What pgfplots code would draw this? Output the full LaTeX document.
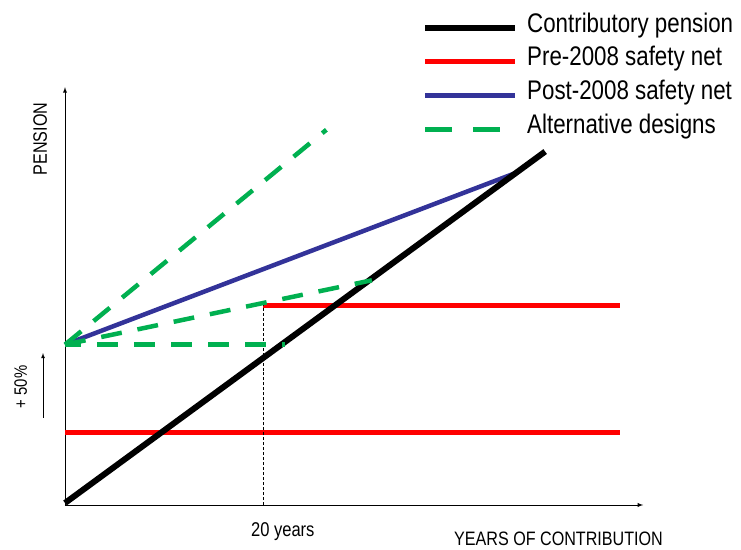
\documentclass[border=0pt]{standalone}
\usepackage{pgfplots}
\pgfplotsset{compat=1.18}
\usepackage{fontspec}
\setmainfont{Liberation Sans}
\newfontfamily\cf[FakeStretch=0.83]{Liberation Sans}
\definecolor{netred}{RGB}{255,0,0}
\definecolor{netblue}{RGB}{51,51,153}
\definecolor{altgreen}{RGB}{0,176,80}
\begin{document}
\begin{tikzpicture}
% one bp per pixel, origin of the axes at pixel (65,505)
\path[use as bounding box] (-65bp,-45bp) rectangle (676bp,505bp);
\begin{axis}[
    anchor=origin, at={(0,0)},
    x=9.9bp, y=9.9bp,
    xmin=0, xmax=58.4,
    ymin=0, ymax=42.2,
    axis lines=left,
    axis line style={-latex, line width=0.9bp},
    xtick=\empty, ytick=\empty,
    clip=false,
    legend style={
        at={(axis cs:36.06,49.8)}, anchor=north west,
        draw=none, fill=none, inner sep=0pt,
        font=\cf\fontsize{27}{32}\selectfont,
        nodes={inner sep=0pt, text height=20bp, text depth=6bp},
        row sep=7.7bp, column sep=9bp,
    },
    legend cell align=left,
    legend image code/.code={\draw[#1] (0bp,-3bp) -- (90bp,-3bp);},
]
% safety nets
\addplot[netred, line width=5bp, forget plot] coordinates {(0,7.37) (56.1,7.37)};
\addplot[netred, line width=5bp, forget plot] coordinates {(20,20.2) (56.1,20.2)};
\addplot[black, densely dashed, line width=0.7bp, forget plot] coordinates {(20,0) (20,20.2)};
% post-2008
\addplot[netblue, line width=4.5bp, forget plot] coordinates {(0,16.2) (45.7,33.6)};
% contributory
\addplot[black, line width=6bp, forget plot] coordinates {(0,0.2) (48.5,35.7)};
% alternatives
\addplot[altgreen, line width=4.5bp, dash pattern=on 21bp off 16bp, forget plot] coordinates {(0,16.2) (26.4,37.9)};
\addplot[altgreen, line width=4.5bp, dash pattern=on 21bp off 16bp, forget plot] coordinates {(0,16.2) (20,20.4) (31.0,22.7)};
\addplot[altgreen, line width=4.5bp, dash pattern=on 21bp off 16bp, dash phase=5bp, forget plot] coordinates {(0,16.2) (22.2,16.2)};

\addlegendimage{black, line width=6bp}
\addlegendentry{Contributory pension}
\addlegendimage{netred, line width=5bp}
\addlegendentry{Pre-2008 safety net}
\addlegendimage{netblue, line width=4.5bp}
\addlegendentry{Post-2008 safety net}
\addlegendimage{altgreen, line width=4.5bp, dash pattern=on 27bp off 21bp}
\addlegendentry{Alternative designs}

\node[font=\cf\fontsize{20}{24}\selectfont, anchor=base] at (axis cs:22.0,-3.23) {20 years};
\node[font=\cf\fontsize{19.5}{24}\selectfont, anchor=base] at (axis cs:49.85,-4.14) {YEARS OF CONTRIBUTION};
\node[font=\cf\fontsize{19.5}{24}\selectfont, rotate=90, anchor=base] at (axis cs:-1.82,36.97) {PENSION};
\node[font=\cf\fontsize{18}{22}\selectfont, rotate=90, anchor=base] at (axis cs:-3.84,11.92) {+ 50\%};
\draw[-latex, line width=0.8bp] (axis cs:-2.22,8.79) -- (axis cs:-2.22,15.35);
\end{axis}
\end{tikzpicture}
\end{document}
